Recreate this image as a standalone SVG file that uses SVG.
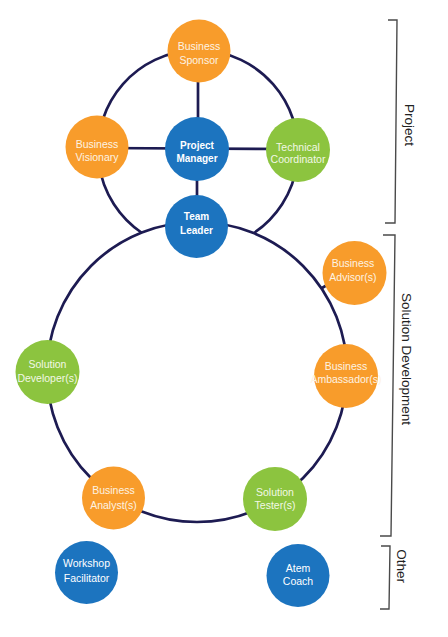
<svg xmlns="http://www.w3.org/2000/svg" width="448" height="637" viewBox="0 0 448 637">
<style>
.ln{fill:none;stroke:#1d1b52;stroke-width:2.7}
.br{fill:none;stroke:#4a4a4a;stroke-width:1.4}
.o{fill:#f89c2b}
.g{fill:#8cc43f}
.b{fill:#1c74bf}
.t{font-family:"Liberation Sans",Arial,sans-serif;font-size:10.5px;text-anchor:middle;fill:#fdf3e3}
.tg{fill:#f2f8e6}
.tb{fill:#ffffff}
.tk{font-weight:bold;font-size:10px}
.lab{font-family:"Liberation Sans",Arial,sans-serif;font-size:13.5px;text-anchor:middle;fill:#222}
</style>
<rect width="448" height="637" fill="#ffffff"/>
<g id="connectors">
<path class="ln" d="M142 233 A100 100 0 1 1 254 233"/>
<circle class="ln" cx="197" cy="372" r="150"/>
<line class="ln" x1="198" y1="51" x2="198" y2="149"/>
<line class="ln" x1="97" y1="148" x2="298" y2="149"/>
<line class="ln" x1="197" y1="149" x2="197" y2="227"/>
<line class="ln" x1="322" y1="288" x2="327" y2="285"/>
</g>
<g id="business-sponsor"><circle class="o" cx="199" cy="51" r="31.5"/><text class="t" x="199" y="50">Business</text><text class="t" x="199" y="64">Sponsor</text></g>
<g id="business-visionary"><circle class="o" cx="97" cy="147" r="31.5"/><text class="t" x="97" y="148">Business</text><text class="t" x="97" y="161">Visionary</text></g>
<g id="project-manager"><circle class="b" cx="197" cy="149" r="32"/><text class="t tb tk" x="197" y="149">Project</text><text class="t tb tk" x="197" y="162">Manager</text></g>
<g id="technical-coordinator"><circle class="g" cx="298" cy="150" r="32"/><text class="t tg" x="298" y="151">Technical</text><text class="t tg" x="298" y="163">Coordinator</text></g>
<g id="team-leader"><circle class="b" cx="196.5" cy="226.5" r="31.5"/><text class="t tb tk" x="196.5" y="220">Team</text><text class="t tb tk" x="196.5" y="234">Leader</text></g>
<g id="business-advisor"><circle class="o" cx="354.5" cy="273" r="32"/><text class="t" x="353" y="267">Business</text><text class="t" x="353" y="281">Advisor(s)</text></g>
<g id="business-ambassador"><circle class="o" cx="346" cy="376" r="32"/><text class="t" x="346" y="370">Business</text><text class="t" x="346" y="383">Ambassador(s)</text></g>
<g id="solution-developer"><circle class="g" cx="47.5" cy="372" r="32"/><text class="t tg" x="47.5" y="368">Solution</text><text class="t tg" x="47.5" y="382">Developer(s)</text></g>
<g id="business-analyst"><circle class="o" cx="113.5" cy="498" r="31.5"/><text class="t" x="113.5" y="494">Business</text><text class="t" x="113.5" y="509">Analyst(s)</text></g>
<g id="solution-tester"><circle class="g" cx="275" cy="499" r="32"/><text class="t tg" x="275" y="496">Solution</text><text class="t tg" x="275" y="509">Tester(s)</text></g>
<g id="workshop-facilitator"><circle class="b" cx="86.5" cy="572.5" r="31.5"/><text class="t tb" x="86.5" y="567">Workshop</text><text class="t tb" x="86.5" y="582">Facilitator</text></g>
<g id="atem-coach"><circle class="b" cx="298" cy="575.5" r="31.5"/><text class="t tb" x="298" y="572">Atem</text><text class="t tb" x="298" y="585">Coach</text></g>
<g id="groups">
<polyline class="br" points="388,20 397,20 395,223 385,223"/>
<polyline class="br" points="383,235 395,235 391,536 380,536"/>
<polyline class="br" points="381,546 390,546 389,609 380,609"/>
<text class="lab" transform="translate(410,125) rotate(90)" dy="0.35em">Project</text>
<text class="lab" transform="translate(407,359) rotate(90)" dy="0.35em">Solution Development</text>
<text class="lab" transform="translate(402,566) rotate(90)" dy="0.35em">Other</text>
</g>
</svg>
